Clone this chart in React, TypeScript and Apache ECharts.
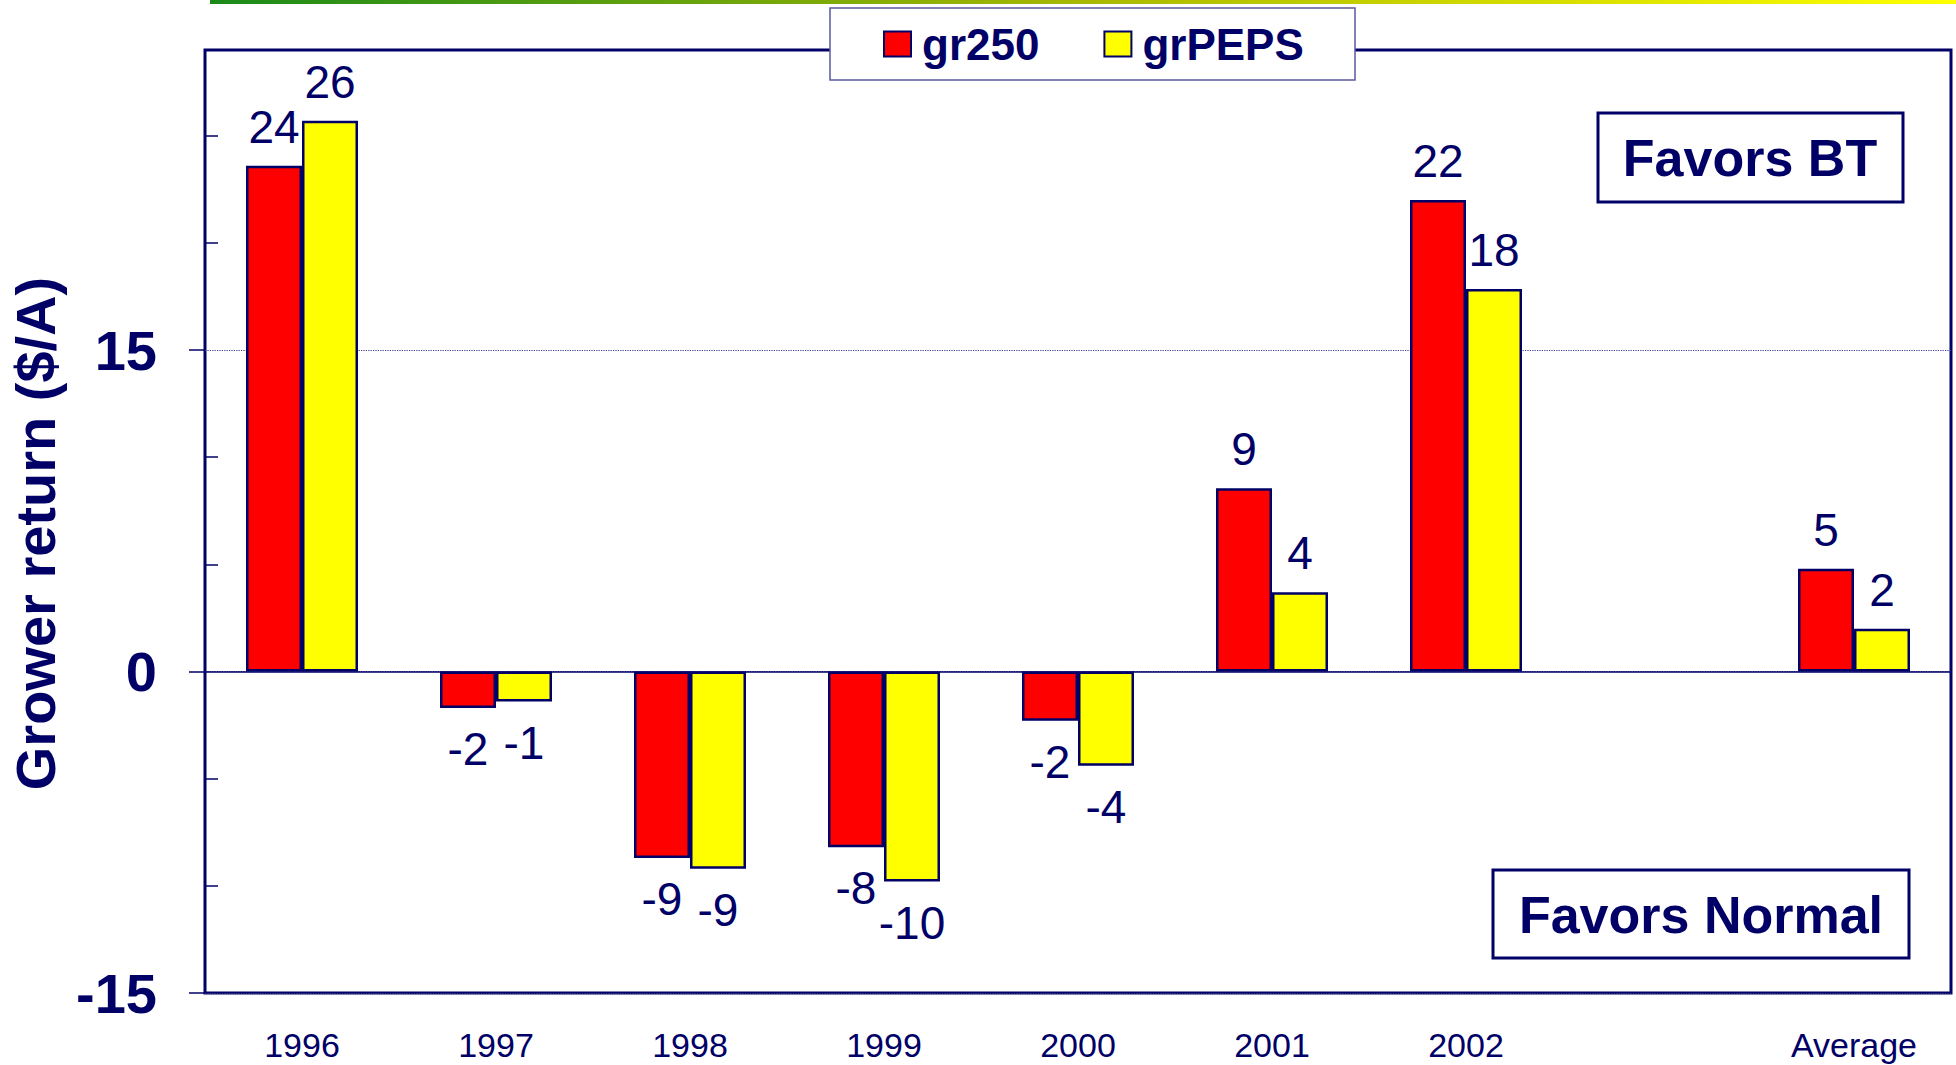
import React, { useEffect, useRef } from "react";
import * as echarts from "echarts";

const categories = ["1996", "1997", "1998", "1999", "2000", "2001", "2002", "", "Average"];
const gr250 = [23.6, -1.7, -8.7, -8.2, -2.3, 8.55, 22.0, null, 4.8];
const grPEPS = [25.7, -1.4, -9.2, -9.8, -4.4, 3.7, 17.85, null, 2.0];
const yMajorTicks = [-15, 0, 15];
const yMinorTicks = [-10, -5, 5, 10, 20, 25];

const NAVY = "#000066";
const FONT = "'Liberation Sans', Arial, sans-serif";

function toItems(arr: (number | null)[]) {
  return arr.map((v) =>
    v === null
      ? null
      : {
          value: v,
          label: {
            position: v < 0 ? "bottom" : "top",
            distance: v < 0 ? 18 : 16,
          },
        }
  );
}

export default function App() {
  const ref = useRef<HTMLDivElement>(null);
  useEffect(() => {
    if (!ref.current) return;
    const chart = echarts.init(ref.current, null, { renderer: "svg" });
    const labelCommon = {
      show: true,
      color: NAVY,
      fontFamily: FONT,
      fontSize: 46,
      formatter: (p: any) => String(Math.round(p.value)),
    };
    const option: any = {
      animation: false,
      backgroundColor: "#ffffff",
      grid: {
        left: 205,
        right: 5,
        top: 50,
        bottom: 72,
        show: true,
        borderColor: NAVY,
        borderWidth: 3,
        backgroundColor: "transparent",
        containLabel: false,
        outerBoundsMode: "none",
      },
      legend: {
        data: ["gr250", "grPEPS"],
        left: 883,
        top: 22,
        padding: 0,
        icon: "rect",
        itemWidth: 27,
        itemHeight: 25,
        itemGap: 64,
        z: 101,
        textStyle: {
          color: NAVY,
          fontFamily: FONT,
          fontWeight: "bold",
          fontSize: 44,
          padding: [0, 0, 0, 6],
        },
      },
      xAxis: [
        {
          type: "category",
          data: categories,
          axisLine: { show: false, onZero: false },
          axisTick: { show: false },
          axisLabel: {
            interval: 0,
            color: NAVY,
            fontFamily: FONT,
            fontSize: 34,
            margin: 35,
          },
          splitLine: { show: false },
        },
        {
          type: "category",
          data: categories,
          position: "bottom",
          axisLine: { show: true, onZero: true, onZeroAxisIndex: 0, lineStyle: { color: NAVY, width: 1.5 } },
          axisTick: { show: false },
          axisLabel: { show: false },
          splitLine: { show: false },
        },
      ],
      yAxis: [
        {
          type: "value",
          min: -15,
          max: 29,
          interval: 5,
          axisLine: { show: false },
          axisTick: {
            show: true,
            inside: true,
            length: 13,
            customValues: yMinorTicks,
            lineStyle: { color: NAVY, width: 1.5 },
          },
          axisLabel: { show: false },
          splitLine: { show: false },
        },
        {
          type: "value",
          min: -15,
          max: 29,
          interval: 15,
          position: "left",
          name: "Grower return ($/A)",
          nameLocation: "middle",
          nameGap: 142,
          nameTextStyle: {
            color: NAVY,
            fontFamily: FONT,
            fontWeight: "bold",
            fontSize: 56,
            padding: [0, 24, 0, 0],
          },
          axisLine: { show: false },
          axisTick: {
            show: true,
            inside: false,
            length: 16,
            customValues: yMajorTicks,
            lineStyle: { color: NAVY, width: 1.5 },
          },
          axisLabel: {
            show: true,
            customValues: yMajorTicks,
            color: NAVY,
            fontFamily: FONT,
            fontWeight: "bold",
            fontSize: 56,
            margin: 48,
            formatter: (v: number) => (yMajorTicks.indexOf(v) >= 0 ? String(v) : ""),
          },
          splitLine: {
            show: true,
            lineStyle: { color: "#3c3c96", type: "dotted", width: 1.2 },
          },
        },
      ],
      series: [
        {
          name: "gr250",
          type: "bar",
          xAxisIndex: 0,
          yAxisIndex: 0,
          barWidth: 56,
          barGap: "0%",
          itemStyle: { color: "#ff0000", borderColor: NAVY, borderWidth: 2.5 },
          label: labelCommon,
          data: toItems(gr250),
        },
        {
          name: "grPEPS",
          type: "bar",
          xAxisIndex: 0,
          yAxisIndex: 0,
          barWidth: 56,
          barGap: "0%",
          itemStyle: { color: "#ffff00", borderColor: NAVY, borderWidth: 2.5 },
          label: labelCommon,
          data: toItems(grPEPS),
        },
      ],
      graphic: [
        {
          type: "rect",
          z: 100,
          shape: { x: 210, y: 0, width: 1746, height: 4 },
          style: {
            fill: new echarts.graphic.LinearGradient(0, 0, 1, 0, [
              { offset: 0, color: "#1a8a1a" },
              { offset: 0.5, color: "#a8b800" },
              { offset: 1, color: "#ffff00" },
            ]),
          },
        },
        {
          type: "rect",
          z: 100,
          shape: { x: 830, y: 8, width: 525, height: 72 },
          style: { fill: "#ffffff", stroke: "#5a5aa0", lineWidth: 1.5 },
        },
        {
          type: "group",
          z: 100,
          children: [
            {
              type: "rect",
              z: 100,
              shape: { x: 1598, y: 113, width: 305, height: 89 },
              style: { fill: "#ffffff", stroke: NAVY, lineWidth: 3 },
            },
            {
              type: "text",
              z: 101,
              x: 1750,
              y: 158,
              style: {
                text: "Favors BT",
                fill: NAVY,
                font: `bold 52px ${FONT}`,
                align: "center",
                verticalAlign: "middle",
              },
            },
            {
              type: "rect",
              z: 100,
              shape: { x: 1493, y: 870, width: 416, height: 88 },
              style: { fill: "#ffffff", stroke: NAVY, lineWidth: 3 },
            },
            {
              type: "text",
              z: 101,
              x: 1701,
              y: 915,
              style: {
                text: "Favors Normal",
                fill: NAVY,
                font: `bold 52px ${FONT}`,
                align: "center",
                verticalAlign: "middle",
              },
            },
          ],
        },
      ],
    };
    chart.setOption(option);
    return () => chart.dispose();
  }, []);
  return (
    <div
      ref={ref}
      style={{ position: "fixed", left: 0, top: 0, width: 1956, height: 1065, background: "#fff" }}
    />
  );
}
